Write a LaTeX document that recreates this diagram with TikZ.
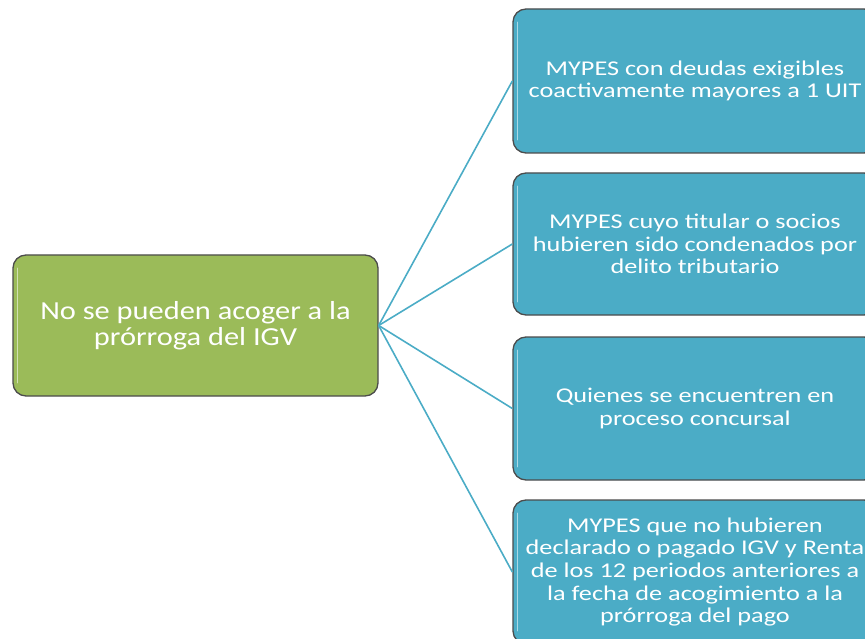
\documentclass[tikz,border=0pt]{standalone}
\usepackage{fontspec}
\setmainfont{Carlito}
\newfontfamily\rightfont[FakeStretch=1.25]{Carlito}
\newfontfamily\leftfont[FakeStretch=1.17]{Carlito}
\begin{document}
\begin{tikzpicture}[x=1pt,y=-1pt,
  box/.style={draw=black!70, line width=1.3pt, rounded corners=13pt, text=white, align=center,
    inner sep=0pt},
  greenbox/.style={box, fill=green1, font=\leftfont\fontsize{26}{26}\selectfont},
  bluebox/.style={box, fill=blue1, font=\rightfont\fontsize{21}{22.6}\selectfont},
  hilite/.style={draw=white, opacity=0.55, line width=1.5pt, line cap=round},
  conn/.style={draw=blue1, line width=1.6pt}]
\definecolor{green1}{HTML}{9BBB59}
\definecolor{blue1}{HTML}{4BACC6}
\useasboundingbox (0,0) rectangle (865,639);
\clip (0,0) rectangle (865,639);
\node[greenbox, minimum width=365pt, minimum height=141pt] (L) at (195.5,325.5)
  {No se pueden acoger a la\\prórroga del IGV};
\node[bluebox, minimum width=364pt, minimum height=144pt] (B1) at (695,81)
  {MYPES con deudas exigibles\\coactivamente mayores a 1 UIT};
\node[bluebox, minimum width=364pt, minimum height=142pt] (B2) at (695,244)
  {MYPES cuyo titular o socios\\hubieren sido condenados por\\delito tributario};
\node[bluebox, minimum width=364pt, minimum height=143pt] (B3) at (695,408.5)
  {Quienes se encuentren en\\proceso concursal};
\node[bluebox, minimum width=364pt, minimum height=144pt] (B4) at (695,572)
  {MYPES que no hubieren\\declarado o pagado IGV y Renta\\de los 12 periodos anteriores a\\la fecha de acogimiento a la\\prórroga del pago};
\foreach \n in {L,B1,B2,B3,B4}
  \draw[hilite] ([xshift=5pt,yshift=-14pt]\n.north west) -- ([xshift=5pt,yshift=14pt]\n.south west);
\draw[conn] (L.east) -- (B1.west);
\draw[conn] (L.east) -- (B2.west);
\draw[conn] (L.east) -- (B3.west);
\draw[conn] (L.east) -- (B4.west);
\end{tikzpicture}
\end{document}
